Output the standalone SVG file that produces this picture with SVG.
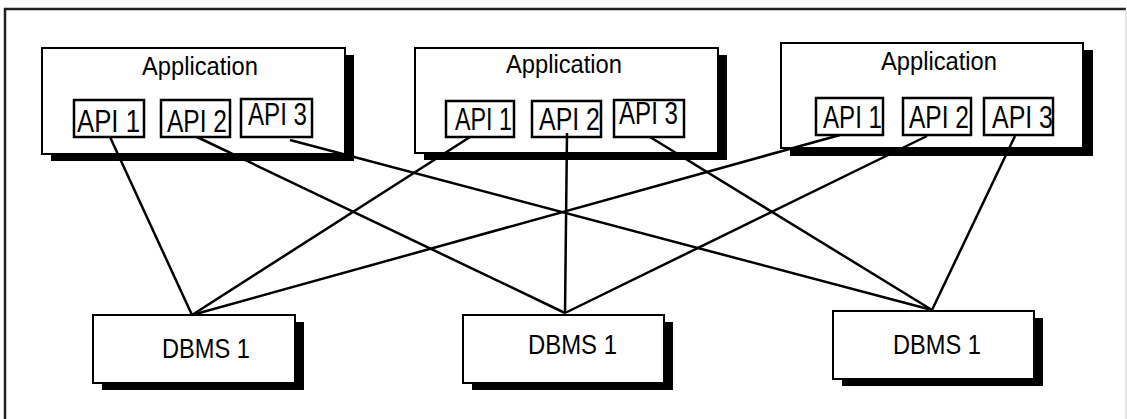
<svg xmlns="http://www.w3.org/2000/svg" width="1127" height="419" viewBox="0 0 1127 419">
<style>
.frame{fill:none;stroke:#222;stroke-width:2.5}
.shadow{fill:#000}
.box{fill:#fff;stroke:#000;stroke-width:2}
.api{fill:#fff;stroke:#000;stroke-width:2.5}
.t{font-family:"Liberation Sans",Arial,sans-serif;fill:#000}
.app{font-size:25px}
.apit{font-size:31px}
.db{font-size:28px}
.conn line{stroke:#000;stroke-width:2.5}
</style>
<rect width="1127" height="419" fill="#fff"/>
<path class="frame" d="M5,421 V9 H1126"/>
<line x1="1126" y1="9" x2="1126" y2="419" stroke="#ccc" stroke-width="1"/>

<g id="app1">
<rect class="shadow" x="51" y="55" width="303" height="106"/>
<rect class="box" x="42" y="48" width="303" height="106"/>
<text class="t app" x="142" y="75" textLength="116" lengthAdjust="spacingAndGlyphs">Application</text>
<rect class="api" x="74" y="100" width="70" height="37"/>
<rect class="api" x="161" y="100" width="69" height="37"/>
<rect class="api" x="241" y="99" width="71" height="38"/>
<text class="t apit" x="77" y="132" textLength="63" lengthAdjust="spacingAndGlyphs">API 1</text>
<text class="t apit" x="167" y="132" textLength="60" lengthAdjust="spacingAndGlyphs">API 2</text>
<text class="t apit" x="248" y="125" textLength="59" lengthAdjust="spacingAndGlyphs">API 3</text>
</g>

<g id="app2">
<rect class="shadow" x="424" y="55" width="303" height="105"/>
<rect class="box" x="415" y="48" width="303" height="105"/>
<text class="t app" x="506" y="73" textLength="116" lengthAdjust="spacingAndGlyphs">Application</text>
<rect class="api" x="446" y="101" width="68" height="36"/>
<rect class="api" x="532" y="101" width="69" height="36"/>
<rect class="api" x="614" y="100" width="70" height="37"/>
<text class="t apit" x="455" y="130" textLength="57" lengthAdjust="spacingAndGlyphs">API 1</text>
<text class="t apit" x="539" y="130" textLength="61" lengthAdjust="spacingAndGlyphs">API 2</text>
<text class="t apit" x="619" y="124" textLength="59" lengthAdjust="spacingAndGlyphs">API 3</text>
</g>

<g id="app3">
<rect class="shadow" x="790" y="50" width="303" height="106"/>
<rect class="box" x="781" y="43" width="302" height="105"/>
<text class="t app" x="881" y="70" textLength="116" lengthAdjust="spacingAndGlyphs">Application</text>
<rect class="api" x="816" y="98" width="67" height="37"/>
<rect class="api" x="903" y="98" width="68" height="37"/>
<rect class="api" x="984" y="98" width="69" height="37"/>
<text class="t apit" x="823" y="128" textLength="59" lengthAdjust="spacingAndGlyphs">API 1</text>
<text class="t apit" x="909" y="128" textLength="60" lengthAdjust="spacingAndGlyphs">API 2</text>
<text class="t apit" x="992" y="128" textLength="61" lengthAdjust="spacingAndGlyphs">API 3</text>
</g>

<g class="conn" id="connectors">
<line x1="110" y1="137" x2="192" y2="315"/>
<line x1="197" y1="137" x2="565" y2="313"/>
<line x1="290" y1="140" x2="932" y2="310"/>
<line x1="470" y1="137" x2="192" y2="315"/>
<line x1="567" y1="133" x2="565" y2="313"/>
<line x1="650" y1="137" x2="932" y2="310"/>
<line x1="840" y1="135" x2="192" y2="315"/>
<line x1="927" y1="136" x2="565" y2="313"/>
<line x1="1015" y1="136" x2="932" y2="310"/>
</g>

<g id="dbms1">
<rect class="shadow" x="102" y="322" width="202" height="68"/>
<rect class="box" x="93" y="315" width="202" height="68"/>
<text class="t db" x="162" y="358" textLength="88" lengthAdjust="spacingAndGlyphs">DBMS 1</text>
</g>
<g id="dbms2">
<rect class="shadow" x="472" y="322" width="201" height="68"/>
<rect class="box" x="463" y="315" width="201" height="68"/>
<text class="t db" x="528" y="354" textLength="89" lengthAdjust="spacingAndGlyphs">DBMS 1</text>
</g>
<g id="dbms3">
<rect class="shadow" x="842" y="318" width="201" height="68"/>
<rect class="box" x="833" y="311" width="201" height="68"/>
<text class="t db" x="893" y="354" textLength="88" lengthAdjust="spacingAndGlyphs">DBMS 1</text>
</g>
</svg>
